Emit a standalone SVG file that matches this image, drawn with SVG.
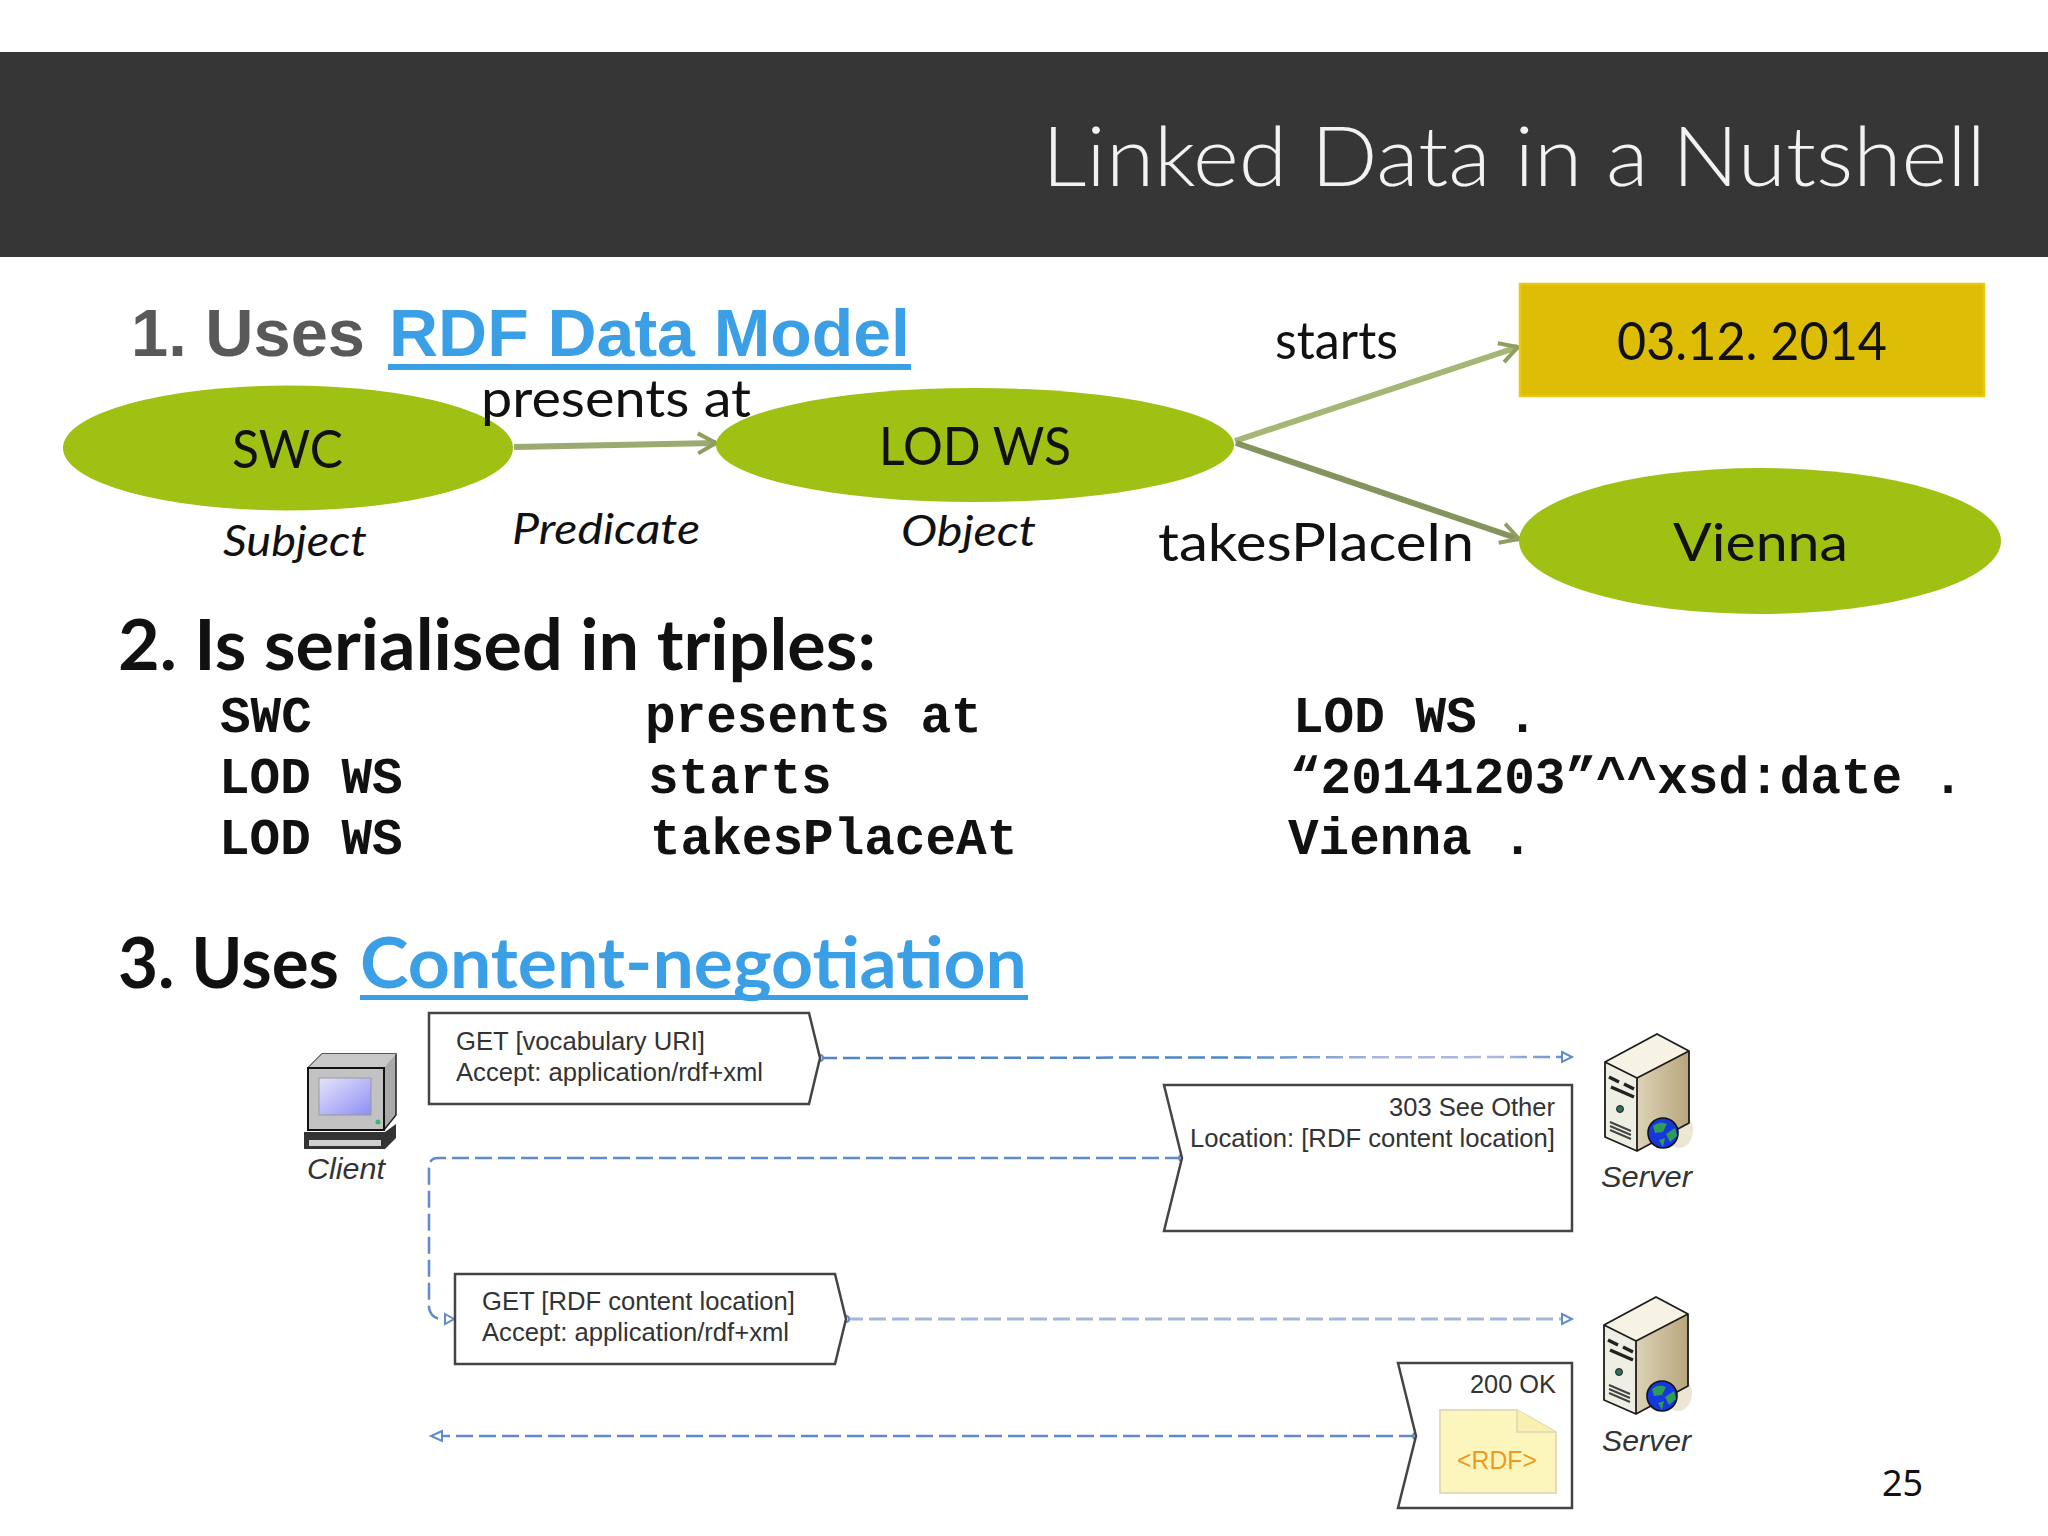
<svg xmlns="http://www.w3.org/2000/svg" width="2048" height="1536" viewBox="0 0 2048 1536">
<style>
.g{font-family:"Lato","Open Sans","Liberation Sans",sans-serif;font-weight:400;fill:#111}
.gi{font-family:"Lato","Open Sans","Liberation Sans",sans-serif;font-style:italic;fill:#111}
.h{font-family:"Liberation Sans",Arial,sans-serif;font-weight:700;font-size:67px}
.hb{font-family:"Lato","Liberation Sans",sans-serif;font-weight:700;font-size:70px}
.m{font-family:"Liberation Mono","Courier New",monospace;font-weight:700;font-size:51px;fill:#111}
.t{font-family:"Liberation Sans",Arial,sans-serif;font-size:25px;fill:#333}
.ti{font-family:"Liberation Sans",Arial,sans-serif;font-style:italic;font-size:30px;fill:#333}
.ell{fill:#9fc114}
.arr{stroke-width:6;fill:none}
.box{fill:#fff;stroke:#444;stroke-width:2.5}
.dash{fill:none;stroke:#5f8cc8;stroke-width:2.5;stroke-dasharray:17 6}
.tip{fill:#fff;stroke:#5f8cc8;stroke-width:2}
</style>
<defs>
<linearGradient id="side" x1="0" x2="1" y1="0" y2="0"><stop offset="0" stop-color="#f2edda"/><stop offset="1" stop-color="#b8a67c"/></linearGradient>
<linearGradient id="screen" x1="0" x2="1" y1="0" y2="1"><stop offset="0" stop-color="#e4e4fb"/><stop offset="1" stop-color="#8e8ef5"/></linearGradient>
<linearGradient id="dash1" gradientUnits="userSpaceOnUse" x1="820" y1="0" x2="1572" y2="0"><stop offset="0" stop-color="#4f86c6"/><stop offset=".55" stop-color="#4f86c6"/><stop offset=".75" stop-color="#a9b8dc"/><stop offset=".9" stop-color="#a9b8dc"/><stop offset="1" stop-color="#5f8cc8"/></linearGradient>
<marker id="open" markerUnits="userSpaceOnUse" markerWidth="30" markerHeight="30" refX="21" refY="12" orient="auto"><path d="M3 2L21 12L3 22" fill="none" stroke="#8f9f60" stroke-width="4"/></marker>
<g id="server">
<ellipse cx="74" cy="96" rx="14" ry="18" fill="#eee6d4"/>
<path d="M52 0L84 17V89L32 117V44L0 28Z" fill="url(#side)"/>
<path d="M52 0L84 17L32 44L0 28Z" fill="#f6f3e4"/>
<path d="M0 28L32 44V117L0 103Z" fill="#eeefe2"/>
<path d="M52 0L84 17V89L32 117L0 103V28ZM0 28L32 44L84 17M32 44V117" fill="none" stroke="#1c1c1c" stroke-width="1.8" stroke-linejoin="round"/>
<path d="M4 43L14 48M19 50L29 55M6 53L29 63" stroke="#222" stroke-width="3.5" fill="none"/>
<circle cx="15" cy="75" r="3.5" fill="#2d6f5c" stroke="#222"/>
<path d="M5 88L26 97M5 92L26 101M5 96L26 105" stroke="#444" stroke-width="2" fill="none"/>
<circle cx="58" cy="99" r="15" fill="#1437e0" stroke="#111" stroke-width="1.6"/>
<path d="M48 92Q55 86 62 90L58 98L50 99ZM61 100L70 94L72 102L65 108ZM54 106L60 104L58 113Z" fill="#2f9c55"/>
</g>
</defs>
<rect width="2048" height="1536" fill="#fff"/>
<g id="header">
<rect y="52" width="2048" height="205" fill="#363636"/>
<text class="g" x="1042" y="186" font-size="82" textLength="944" lengthAdjust="spacingAndGlyphs" style="fill:#f2f2f2;font-weight:300">Linked Data in a Nutshell</text>
</g>
<g id="connectors">
<line class="arr" x1="514" y1="447" x2="716" y2="443" stroke="#9aaa70" marker-end="url(#open)"/>
<line class="arr" x1="1235" y1="441" x2="1518" y2="347" stroke="#a6b674" marker-end="url(#open)"/>
<line class="arr" x1="1236" y1="443" x2="1519" y2="539" stroke="#84945e" marker-end="url(#open)"/>
<path class="dash" style="stroke:url(#dash1)" d="M820 1058L1562 1057"/>
<path class="tip" d="M1562 1052L1572 1057L1562 1062Z"/>
<circle class="tip" cx="820" cy="1058" r="3"/>
<path class="dash" d="M1182 1158H438Q429 1158 429 1168V1308Q431 1319 443 1319"/>
<path class="tip" d="M445 1314L454 1319L445 1324Z"/>
<circle class="tip" cx="1182" cy="1158" r="3"/>
<path class="dash" style="stroke:#a5b6dc;stroke-width:3" d="M846 1319H1562"/>
<path class="tip" d="M1562 1314L1572 1319L1562 1324Z"/>
<circle class="tip" cx="846" cy="1319" r="3"/>
<path class="dash" d="M1416 1436H442"/>
<path class="tip" d="M442 1431L431 1436L442 1441Z"/>
<circle class="tip" cx="1416" cy="1436" r="3"/>
</g>
<g id="heading-1">
<text class="h" x="131" y="356" fill="#595959" textLength="234" lengthAdjust="spacingAndGlyphs">1. Uses</text>
<text class="h" x="389" y="356" fill="#3b9fe6" textLength="521" lengthAdjust="spacingAndGlyphs">RDF Data Model</text>
<rect x="388" y="364" width="523" height="6" fill="#3b9fe6"/>
</g>
<g id="node-swc">
<ellipse class="ell" cx="288" cy="448" rx="225" ry="62.5"/>
<text class="g" x="232" y="468" font-size="52" textLength="111" lengthAdjust="spacingAndGlyphs">SWC</text>
</g>
<g id="node-lod">
<ellipse class="ell" cx="975" cy="445" rx="259" ry="57"/>
<text class="g" x="879" y="465" font-size="52" textLength="192" lengthAdjust="spacingAndGlyphs">LOD WS</text>
</g>
<g id="node-date">
<rect x="1520" y="284" width="464" height="112" fill="#ddbd06" stroke="#eac80e" stroke-width="2.5"/>
<text class="g" x="1617" y="360" font-size="52" textLength="270" lengthAdjust="spacingAndGlyphs">03.12. 2014</text>
</g>
<g id="node-vienna">
<ellipse class="ell" cx="1760" cy="541" rx="241" ry="73"/>
<text class="g" x="1673" y="561" font-size="52" textLength="175" lengthAdjust="spacingAndGlyphs">Vienna</text>
</g>
<g id="labels">
<text class="g" x="481" y="417" font-size="52" textLength="270" lengthAdjust="spacingAndGlyphs">presents at</text>
<text class="g" x="1275" y="359" font-size="52" textLength="123" lengthAdjust="spacingAndGlyphs">starts</text>
<text class="g" x="1158" y="561" font-size="52" textLength="316" lengthAdjust="spacingAndGlyphs">takesPlaceIn</text>
<text class="gi" x="223" y="556" font-size="42" textLength="144" lengthAdjust="spacingAndGlyphs">Subject</text>
<text class="gi" x="512" y="544" font-size="42" textLength="188" lengthAdjust="spacingAndGlyphs">Predicate</text>
<text class="gi" x="901" y="546" font-size="42" textLength="135" lengthAdjust="spacingAndGlyphs">Object</text>
</g>
<g id="triples">
<text class="hb" x="118" y="670" fill="#111" textLength="758" lengthAdjust="spacingAndGlyphs">2. Is serialised in triples:</text>
<text class="m" x="220" y="732">SWC</text><text class="m" x="645" y="732">presents at</text><text class="m" x="1293" y="732">LOD WS .</text>
<text class="m" x="219" y="793">LOD WS</text><text class="m" x="648" y="793">starts</text><text class="m" x="1290" y="793">“20141203”^^xsd:date .</text>
<text class="m" x="219" y="854">LOD WS</text><text class="m" x="650" y="854">takesPlaceAt</text><text class="m" x="1288" y="854">Vienna .</text>
</g>
<g id="heading-3">
<text class="hb" x="118" y="988" fill="#111" textLength="221" lengthAdjust="spacingAndGlyphs">3. Uses</text>
<text class="hb" x="360" y="988" fill="#3b9fe6" textLength="667" lengthAdjust="spacingAndGlyphs">Content-negotiation</text>
<rect x="360" y="995" width="668" height="5" fill="#3b9fe6"/>
</g>
<g id="client">
<path d="M308 1068L322 1054H396V1115L384 1130H308Z" fill="#a9a9a9" stroke="#222" stroke-width="1.5"/>
<path d="M322 1054H396L384 1068H308Z" fill="#c9c9c9"/>
<rect x="308" y="1068" width="76" height="62" fill="#c2c2c2" stroke="#111" stroke-width="2"/>
<rect x="319" y="1078" width="52" height="37" fill="url(#screen)" stroke="#999"/>
<circle cx="378" cy="1122" r="2.5" fill="#3cb371"/>
<path d="M304 1132H385L396 1124V1138L385 1149H304Z" fill="#333"/>
<rect x="309" y="1140" width="72" height="6" fill="#cfcfcf"/>
<text class="ti" x="307" y="1179" textLength="78" lengthAdjust="spacingAndGlyphs">Client</text>
</g>
<g id="msg-1">
<path class="box" d="M429 1013H809L820 1058L809 1104H429Z"/>
<text class="t" x="456" y="1050" textLength="249" lengthAdjust="spacingAndGlyphs">GET [vocabulary URI]</text>
<text class="t" x="456" y="1081" textLength="307" lengthAdjust="spacingAndGlyphs">Accept: application/rdf+xml</text>
</g>
<g id="msg-2">
<path class="box" d="M1164 1085H1572V1231H1164L1182 1158Z"/>
<text class="t" x="1389" y="1116" textLength="166" lengthAdjust="spacingAndGlyphs">303 See Other</text>
<text class="t" x="1190" y="1147" textLength="365" lengthAdjust="spacingAndGlyphs">Location: [RDF content location]</text>
</g>
<g id="msg-3">
<path class="box" d="M455 1274H835L846 1319L835 1364H455Z"/>
<text class="t" x="482" y="1310" textLength="313" lengthAdjust="spacingAndGlyphs">GET [RDF content location]</text>
<text class="t" x="482" y="1341" textLength="307" lengthAdjust="spacingAndGlyphs">Accept: application/rdf+xml</text>
</g>
<g id="msg-4">
<path class="box" d="M1398 1363H1572V1508H1398L1416 1436Z"/>
<text class="t" x="1470" y="1393" textLength="86" lengthAdjust="spacingAndGlyphs">200 OK</text>
<path d="M1440 1410H1517L1556 1432V1493H1440Z" fill="#fdf6bc" stroke="#e2ddb4" stroke-width="2"/>
<path d="M1517 1410V1432H1556" fill="#f8efb0" stroke="#e2ddb4" stroke-width="2"/>
<text class="t" x="1457" y="1469" textLength="80" lengthAdjust="spacingAndGlyphs" style="fill:#ee9a20">&lt;RDF&gt;</text>
</g>
<g id="server-1">
<use href="#server" x="1605" y="1034"/>
<text class="ti" x="1601" y="1187" textLength="91" lengthAdjust="spacingAndGlyphs">Server</text>
</g>
<g id="server-2">
<use href="#server" x="1604" y="1297"/>
<text class="ti" x="1602" y="1451" textLength="89" lengthAdjust="spacingAndGlyphs">Server</text>
</g>
<text id="page" x="1882" y="1496" font-family="'Noto Sans','DejaVu Sans',sans-serif" font-size="36" fill="#111">25</text>
</svg>
